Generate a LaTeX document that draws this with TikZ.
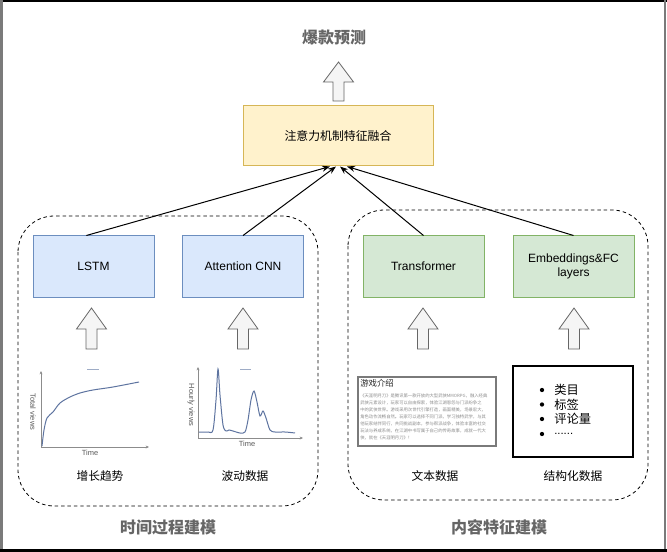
\documentclass[tikz,border=0pt]{standalone}
\usepackage{fontspec}
\setmainfont{Liberation Sans}
\newfontfamily\cjk{Noto Sans CJK SC}
\usetikzlibrary{arrows.meta,calc}
\definecolor{bluefill}{HTML}{DAE8FC}
\definecolor{bluedraw}{HTML}{6C8EBF}
\definecolor{greenfill}{HTML}{D5E8D4}
\definecolor{greendraw}{HTML}{82B366}
\definecolor{yelfill}{HTML}{FFF2CC}
\definecolor{yeldraw}{HTML}{D6B656}
\definecolor{arrfill}{HTML}{F5F5F5}
\definecolor{arrdraw}{HTML}{666666}
\definecolor{titlegray}{HTML}{666666}
\definecolor{curveblue}{HTML}{5E74A0}
\definecolor{axisgray}{HTML}{8C8C8C}
\definecolor{framegray}{HTML}{7A7A7A}
\newcommand{\blkarrow}[4]{%
  \draw[blkarr] (#1-15,#3) -- (#1,#2) -- (#1+15,#3) -- (#1+5.5,#3) -- (#1+5.5,#4) -- (#1-5.5,#4) -- (#1-5.5,#3) -- cycle;}
\begin{document}
\begin{tikzpicture}[x=0.75pt,y=-0.75pt,
  modelbox/.style={draw, line width=0.75pt, minimum width=90.75pt, minimum height=45.75pt, inner sep=1pt, align=center, font=\fontsize{9}{11}\selectfont},
  bluebox/.style={modelbox, fill=bluefill, draw=bluedraw},
  greenbox/.style={modelbox, fill=greenfill, draw=greendraw},
  fusebox/.style={draw=yeldraw, fill=yelfill, line width=0.75pt, minimum width=142.5pt, minimum height=45pt, font=\cjk\fontsize{8.9}{11}\selectfont},
  blkarr/.style={fill=arrfill, draw=arrdraw, line width=0.6pt, line join=miter},
  conn/.style={draw=black, line width=0.75pt, -{Stealth[length=6pt,width=4.5pt]}},
  group/.style={draw=black, line width=0.6pt, dash pattern=on 2.6pt off 2.2pt, rounded corners=27pt},
  bigtitle/.style={font=\cjk\bfseries\fontsize{12}{14}\selectfont, text=titlegray},
  sublabel/.style={font=\cjk\fontsize{8.8}{11}\selectfont, text=black},
  axis/.style={draw=axisgray, line width=0.6pt, -{Stealth[length=2.5pt,width=2.2pt]}},
  curve/.style={draw=curveblue, line width=0.75pt},
  axlabel/.style={font=\fontsize{5.6}{6.5}\selectfont, text=black!65, inner sep=0pt},
  item/.style={font=\cjk\fontsize{9.2}{11}\selectfont, anchor=west, inner sep=0pt}
]
\useasboundingbox (0,0) rectangle (667,552);
\fill[white] (0,0) rectangle (667,552);
% frame
\draw[black, line width=1.2pt] (0,0.8) -- (667,0.8);
\draw[framegray, line width=1.8pt] (1.3,0) -- (1.3,552);
\draw[framegray, line width=1.8pt] (665,0) -- (665,552);
\draw[black, line width=2pt] (0,550.7) -- (667,550.7);

% title and top arrow
\node[bigtitle] (title) at (334,37) {爆款预测};
\blkarrow{338.5}{62}{82}{101}
\node[fusebox] (fusion) at (338,136) {注意力机制特征融合};

% groups
\draw[group] (18,216) rectangle (318,506);
\draw[group] (348,210) rectangle (648,500);

% model boxes
\node[bluebox] (lstm) at (93.5,266.5) {LSTM};
\node[bluebox] (cnn) at (243,266.5) {Attention CNN};
\node[greenbox] (trans) at (423.5,266.5) {Transformer};
\node[greenbox] (emb) at (573.5,266.5) {Embeddings\&FC\\layers};

% connectors
\draw[conn] (lstm.103) -- ($(fusion.south)+(-8,0)$);
\draw[conn] (cnn.north) -- ($(fusion.south)+(-2,0)$);
\draw[conn] (trans.north) -- ($(fusion.south)+(2,0)$);
\draw[conn] (emb.north) -- ($(fusion.south)+(9,0)$);

% input arrows
\blkarrow{91.5}{308}{329}{349}
\blkarrow{243}{308}{329}{349}
\blkarrow{423}{308}{329}{349}
\blkarrow{574}{308}{329}{349}

% left chart: total views
\draw[axis] (41,447) -- (41,371);
\draw[axis] (41,447) -- (149,447);
\draw[curve] plot[smooth] coordinates {(42,446) (44,430) (47,418) (53,412) (60,403) (70,397) (80,393) (93,390) (113,387) (139,382)};
\draw[curveblue!60, line width=0.5pt] (87,369) -- (99,369);
\node[axlabel, rotate=-90] (tv) at (33,412) {Total views};
\node[axlabel] (t1) at (90,453) {Time};

% right chart: hourly views
\draw[axis] (198,438) -- (198,367);
\draw[axis] (198,438) -- (303,438);
\draw[curve] plot[smooth, tension=0.5] coordinates {(199,432) (208,432) (213,430) (216,400) (218,369) (220,395) (223,425) (226,431) (229,430) (233,431) (240,433) (245,432) (248,420) (251,400) (254,391) (257,402) (260,416) (263,411) (266,418) (270,430) (275,432) (285,432) (295,433)};
\draw[curveblue!60, line width=0.5pt] (240,369) -- (251,369);
\node[axlabel, rotate=-90] (hv) at (191,405) {Hourly views};
\node[axlabel] (t2) at (247,444) {Time};

% text data box
\node[draw=framegray, line width=1.5pt, minimum width=103.5pt, minimum height=51.75pt, inner sep=0pt] (textbox) at (427,411.5) {};
\node[font=\cjk\fontsize{6.3}{7}\selectfont, text=black!85, anchor=west, inner sep=0pt] (ttitle) at (360,383) {游戏介绍};
\node[font=\cjk\fontsize{3.25}{5.25}\selectfont, text=black!45, anchor=north west, align=left, inner sep=0pt] (tbody) at (360,393.5) {《天涯明月刀》是腾讯第一款开放的大型武侠MMORPG，融入经典\\武侠元素设计，玩家可以自由探索，体验江湖恩怨与门派纷争之\\中的武侠世界。游戏采用次世代引擎打造，画面精美，场景宏大，\\角色动作流畅自然。玩家可以选择不同门派，学习独特武学，与其\\他玩家结伴同行，共同挑战副本，参与帮派战争，体验丰富的社交\\玩法与养成系统，在江湖中书写属于自己的传奇故事，成就一代大\\侠，就在《天涯明月刀》！};

% structured data box
\node[draw=black, line width=1pt, minimum width=90pt, minimum height=68.25pt, inner sep=0pt] (structbox) at (573,411.5) {};
\foreach \t/\yy/\nm in {类目/390/b1, 标签/404.5/b2, 评论量/419/b3}{
  \node[circle, fill=black, inner sep=0pt, minimum size=3.2pt] (\nm d) at (542,\yy) {};
  \node[item] (\nm) at (554,\yy) {\t};
}
\node[circle, fill=black, inner sep=0pt, minimum size=3.2pt] (b4d) at (542,434) {};
\node[font=\fontsize{8.5}{10}\selectfont, anchor=west, inner sep=0pt] (b4) at (554,434) {......};

% bottom labels
\node[sublabel] (l1) at (100,476) {增长趋势};
\node[sublabel] (l2) at (245,476) {波动数据};
\node[sublabel] (l3) at (435,476) {文本数据};
\node[sublabel] (l4) at (573,476) {结构化数据};
\node[bigtitle] (g1) at (168,527) {时间过程建模};
\node[bigtitle] (g2) at (499,527) {内容特征建模};
\end{tikzpicture}
\end{document}
